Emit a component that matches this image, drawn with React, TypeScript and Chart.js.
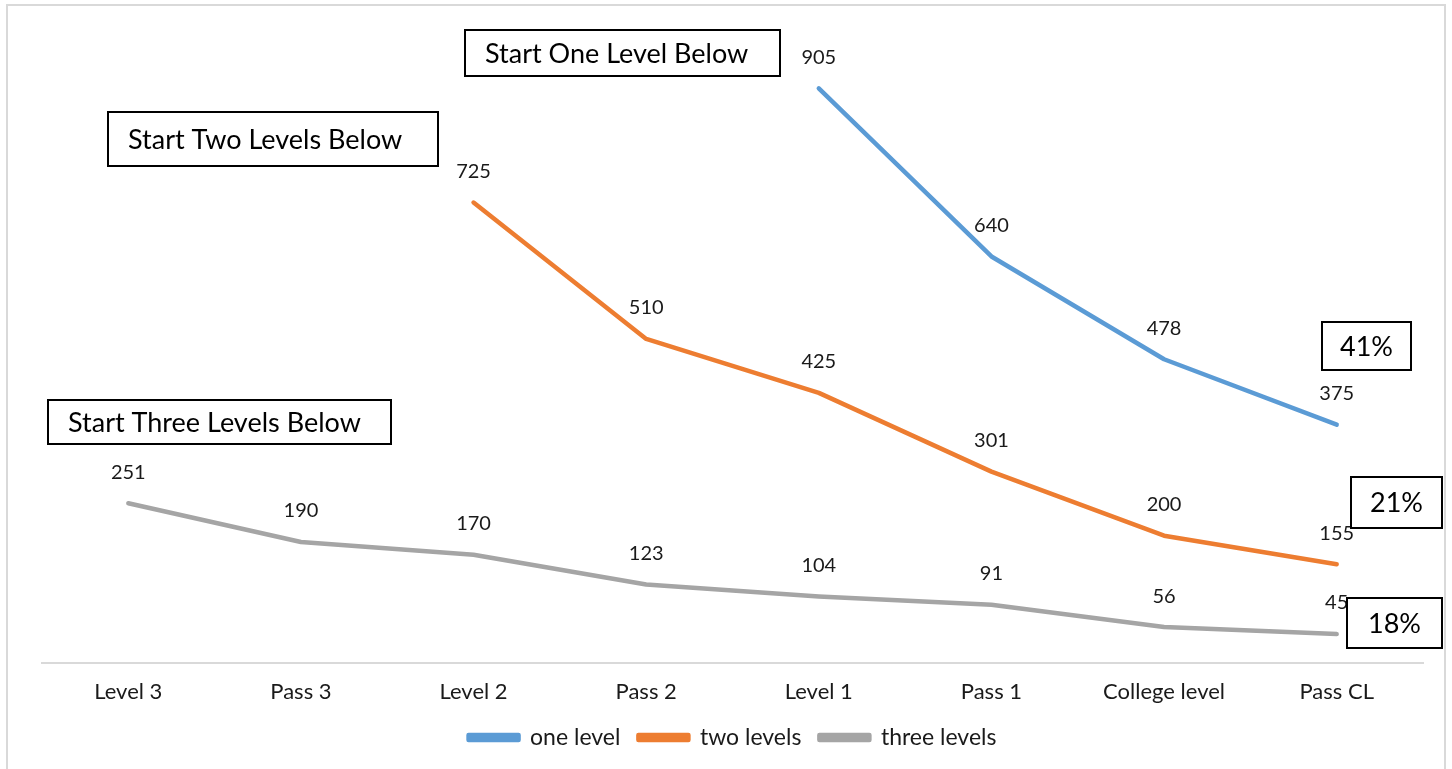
import React, { useEffect, useRef } from 'react';
import { Chart, registerables } from 'chart.js';

Chart.register(...registerables);

// Students remaining at each stage of the sequence, by starting placement
const stages = ['Level 3', 'Pass 3', 'Level 2', 'Pass 2', 'Level 1', 'Pass 1', 'College level', 'Pass CL'];
const oneLevel = [null, null, null, null, 905, 640, 478, 375];
const twoLevels = [null, null, 725, 510, 425, 301, 200, 155];
const threeLevels = [251, 190, 170, 123, 104, 91, 56, 45];
const seriesNames = ['one level', 'two levels', 'three levels'];
const startCaptions = ['Start One Level Below', 'Start Two Levels Below', 'Start Three Levels Below'];
const completionRates = ['41%', '21%', '18%'];

const FONT = 'Lato, "Open Sans", sans-serif';
const COLORS = ['#5B9BD5', '#ED7D31', '#A5A5A5'];

// Outer frame, value labels above each point and boxed captions
const decorations = {
  id: 'decorations',
  beforeDraw(chart: any) {
    const { ctx } = chart;
    ctx.save();
    ctx.fillStyle = '#ffffff';
    ctx.fillRect(0, 0, chart.width, chart.height);
    ctx.strokeStyle = '#D9D9D9';
    ctx.lineWidth = 2;
    ctx.strokeRect(7, 5, 1438, 780);
    ctx.restore();
  },
  afterDatasetsDraw(chart: any) {
    const { ctx } = chart;
    ctx.save();
    ctx.font = `20px ${FONT}`;
    ctx.fillStyle = '#1a1a1a';
    ctx.textAlign = 'center';
    ctx.textBaseline = 'middle';
    chart.data.datasets.forEach((ds: any, i: number) => {
      const meta = chart.getDatasetMeta(i);
      meta.data.forEach((pt: any, j: number) => {
        const v = ds.data[j];
        if (v === null || v === undefined) return;
        ctx.fillText(String(v), pt.x, pt.y - 31);
      });
    });

    const box = (x: number, y: number, w: number, h: number, text: string, size: number, align: 'left' | 'center') => {
      ctx.fillStyle = '#ffffff';
      ctx.fillRect(x, y, w, h);
      ctx.strokeStyle = '#000';
      ctx.lineWidth = 2;
      ctx.strokeRect(x, y, w, h);
      ctx.fillStyle = '#000';
      ctx.font = `${size}px ${FONT}`;
      ctx.textAlign = align;
      ctx.textBaseline = 'middle';
      ctx.fillText(text, align === 'center' ? x + w / 2 : x + 20, y + h / 2 + 1);
    };
    box(465, 30, 315, 46, startCaptions[0], 27, 'left');
    box(108, 112, 330, 54, startCaptions[1], 27, 'left');
    box(48, 400, 343, 44, startCaptions[2], 27, 'left');
    box(1322, 322, 89, 48, completionRates[0], 27, 'center');
    box(1351, 477, 91, 51, completionRates[1], 27, 'center');
    box(1347, 598, 95, 50, completionRates[2], 27, 'center');
    ctx.restore();
  },
};

export default function App() {
  const ref = useRef<HTMLCanvasElement | null>(null);

  useEffect(() => {
    document.body.style.margin = '0';
    const mk = (label: string, data: (number | null)[], color: string) => ({
      label,
      data,
      borderColor: color,
      backgroundColor: color,
      borderWidth: 4.5,
      borderCapStyle: 'round' as const,
      borderJoinStyle: 'round' as const,
      pointRadius: 0,
      pointHoverRadius: 0,
      tension: 0,
      spanGaps: false,
    });
    const chart = new Chart(ref.current as HTMLCanvasElement, {
      type: 'line',
      data: {
        labels: stages,
        datasets: [
          mk(seriesNames[0], oneLevel, COLORS[0]),
          mk(seriesNames[1], twoLevels, COLORS[1]),
          mk(seriesNames[2], threeLevels, COLORS[2]),
        ],
      },
      options: {
        animation: false,
        responsive: false,
        maintainAspectRatio: false,
        layout: { padding: { left: 42, right: 29, top: 28, bottom: 10 } },
        plugins: {
          legend: {
            position: 'bottom',
            labels: {
              boxWidth: 50,
              boxHeight: 5,
              padding: 18,
              color: '#1a1a1a',
              font: { family: FONT, size: 23 },
            },
          },
          tooltip: { enabled: false },
        },
        scales: {
          x: {
            offset: true,
            grid: { display: false, drawTicks: false },
            border: { display: true, color: '#D9D9D9', width: 2 },
            ticks: { color: '#1a1a1a', padding: 16, font: { family: FONT, size: 22 }, maxRotation: 0 },
            afterFit(scale: any) {
              scale.height = scale.height - 13;
            },
          },
          y: {
            display: false,
            min: 0,
            max: 1000,
          },
        },
      },
      plugins: [decorations],
    });
    return () => chart.destroy();
  }, []);

  return (
    <div style={{ position: 'absolute', left: 0, top: 0, width: 1452, height: 769 }}>
      <canvas ref={ref} width={1452} height={769} style={{ display: 'block' }} />
    </div>
  );
}
